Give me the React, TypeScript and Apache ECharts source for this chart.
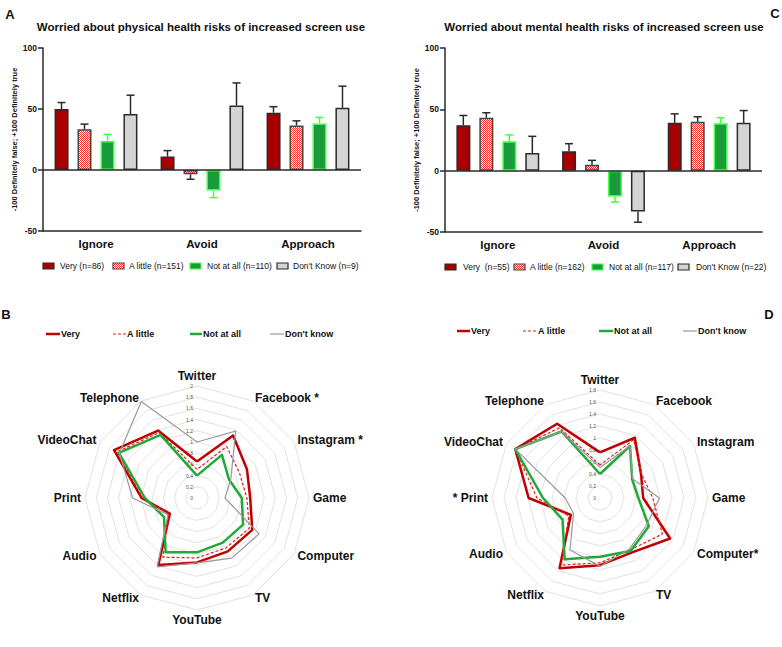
import React, { useEffect, useRef } from 'react';
import * as echarts from 'echarts';

// ---------- Bar charts (A: physical, C: mental) ----------
const barCategories = ['Ignore', 'Avoid', 'Approach'];
const groupNames = ['Very', 'A little', 'Not at all', "Don't Know"];
const physLegend = ['Very (n=86)', 'A little (n=151)', 'Not at all (n=110)', "Don't Know (n=9)"];
const mentLegend = ['Very  (n=55)', 'A little (n=162)', 'Not at all (n=117)', "Don't Know (n=22)"];
const yTickMin = -50;
const yTickMax = 100;
const yTickStep = 50;

const physVery = [50, 11, 47];
const physVeryErr = [5.3, 4.9, 4.9];
const physLittle = [33.3, -3.5, 36.5];
const physLittleErr = [4.3, 4.1, 3.8];
const physNot = [23.7, -16.9, 38.2];
const physNotErr = [5.5, 5.7, 4.9];
const physDK = [45.8, 52.9, 51];
const physDKErr = [15.5, 18.5, 17.7];

const mentVery = [37, 15.8, 39];
const mentVeryErr = [8, 6.2, 7.3];
const mentLittle = [43.1, 4.9, 39.8];
const mentLittleErr = [4.1, 3.5, 4.1];
const mentNot = [24, -21, 38.7];
const mentNotErr = [5.2, 4.6, 4.4];
const mentDK = [14.5, -33.3, 39];
const mentDKErr = [13.5, 8.7, 10];

// ---------- Radar charts (B: physical, D: mental) ----------
// clockwise from top
const radarNamesB = ['Twitter', 'Facebook *', 'Instagram *', 'Game', 'Computer', 'TV', 'YouTube', 'Netflix', 'Audio', 'Print', 'VideoChat', 'Telephone'];
const radarNamesD = ['Twitter', 'Facebook', 'Instagram', 'Game', 'Computer*', 'TV', 'YouTube', 'Netflix', 'Audio', '* Print', 'VideoChat', 'Telephone'];
const radarLegend = ['Very', 'A little', 'Not at all', "Don't know"];
const radarMaxB = 2;
const radarMaxD = 1.8;

const radarVeryB = [0.65, 1.29, 1.03, 0.95, 1.14, 1.10, 1.15, 1.38, 0.56, 0.99, 1.71, 1.39];
const radarLittleB = [0.51, 1.06, 0.88, 0.89, 1.08, 1.03, 1.07, 1.22, 0.58, 0.97, 1.65, 1.35];
const radarNotB = [0.40, 0.89, 0.66, 0.80, 0.95, 0.92, 0.97, 1.12, 0.68, 0.93, 1.61, 1.30];
const radarDKB = [1.0, 1.38, 0.70, 0.50, 1.28, 1.24, 1.16, 1.42, 0.60, 1.15, 1.60, 1.99];

const radarVeryD = [0.76, 1.16, 0.79, 0.72, 1.35, 1.05, 1.12, 1.35, 0.56, 1.19, 1.63, 1.43];
const radarLittleD = [0.55, 1.12, 0.80, 0.88, 1.20, 1.00, 1.08, 1.29, 0.60, 1.05, 1.63, 1.35];
const radarNotD = [0.40, 1.00, 0.62, 0.64, 0.94, 1.02, 0.98, 1.18, 0.72, 0.95, 1.63, 1.28];
const radarDKD = [0.51, 1.00, 0.63, 0.99, 0.90, 0.98, 1.14, 1.00, 0.51, 0.58, 1.63, 1.28];

const FONT = '"Liberation Sans", Arial, Helvetica, sans-serif';

function makeChecker(): HTMLCanvasElement {
  const c = document.createElement('canvas');
  c.width = 2;
  c.height = 2;
  const ctx = c.getContext('2d')!;
  ctx.fillStyle = '#ffffff';
  ctx.fillRect(0, 0, 2, 2);
  ctx.fillStyle = '#f03030';
  ctx.fillRect(0, 0, 1, 1);
  ctx.fillRect(1, 1, 1, 1);
  return c;
}

export default function App() {
  const ref = useRef<HTMLDivElement>(null);

  useEffect(() => {
    if (!ref.current) return;
    const chart = echarts.init(ref.current, undefined, { renderer: 'svg' });
    const checker = makeChecker();
    const pattern: any = { image: checker, repeat: 'repeat' };

    const fills: any[] = ['#a80000', pattern, '#1a9b3b', '#d4d4d4'];
    const borders = ['#2a2a2a', '#444444', '#45ff45', '#2a2a2a'];
    const errColors = ['#2a2a2a', '#2a2a2a', '#45ff45', '#2a2a2a'];
    const step = 23;

    const physVals = [physVery, physLittle, physNot, physDK];
    const physErrs = [physVeryErr, physLittleErr, physNotErr, physDKErr];
    const mentVals = [mentVery, mentLittle, mentNot, mentDK];
    const mentErrs = [mentVeryErr, mentLittleErr, mentNotErr, mentDKErr];

    const series: any[] = [];
    const addBars = (gi: number, vals: number[][], errs: number[][]) => {
      vals.forEach((v, k) => {
        series.push({
          type: 'bar',
          name: groupNames[k],
          xAxisIndex: gi,
          yAxisIndex: gi,
          barWidth: 14,
          barGap: '64%',
          data: v,
          itemStyle: { color: fills[k], borderColor: borders[k], borderWidth: 1.5 },
          z: 2,
          markLine: k === 0 ? {
            silent: true,
            symbol: 'none',
            label: { show: false },
            lineStyle: { color: '#2a2a2a', width: 1.5, type: 'solid' },
            data: [{ yAxis: 0 }],
            z: 5,
          } : undefined,
        });
      });
      vals.forEach((v, k) => {
        const offset = (k - 1.5) * step;
        series.push({
          type: 'custom',
          name: groupNames[k] + ' err',
          xAxisIndex: gi,
          yAxisIndex: gi,
          z: 3,
          data: v.map((val, c) => [c, val, errs[k][c]]),
          renderItem: (params: any, api: any) => {
            const c = api.value(0);
            const val = api.value(1);
            const e = api.value(2);
            const end = val >= 0 ? val + e : val - e;
            const p0 = api.coord([c, val]);
            const p1 = api.coord([c, end]);
            const x = p0[0] + offset;
            const st = { stroke: errColors[k], lineWidth: 1.5 };
            return {
              type: 'group',
              children: [
                { type: 'line', shape: { x1: x, y1: p0[1], x2: x, y2: p1[1] }, style: st },
                { type: 'line', shape: { x1: x - 4, y1: p1[1], x2: x + 4, y2: p1[1] }, style: st },
              ],
            };
          },
        });
      });
    };
    addBars(0, physVals, physErrs);
    addBars(1, mentVals, mentErrs);

    // radar: ECharts lays indicators counter-clockwise, so reorder
    const order = [0, 11, 10, 9, 8, 7, 6, 5, 4, 3, 2, 1];
    const reorder = (a: any[]) => order.map((i) => a[i]);
    const radarStyles = [
      { color: '#c00000', width: 2.5, type: 'solid' },
      { color: '#e02020', width: 1.2, type: [3, 2] },
      { color: '#20a838', width: 2.5, type: 'solid' },
      { color: '#9a9a9a', width: 1.2, type: 'solid' },
    ];
    const makeRadarSeries = (ri: number, sets: number[][]) => ({
      type: 'radar',
      radarIndex: ri,
      symbol: 'none',
      data: sets.map((s, k) => ({
        name: radarLegend[k],
        value: reorder(s),
        lineStyle: radarStyles[k],
        itemStyle: { color: radarStyles[k].color },
      })),
    });
    series.push(makeRadarSeries(0, [radarVeryB, radarLittleB, radarNotB, radarDKB]));
    series.push(makeRadarSeries(1, [radarVeryD, radarLittleD, radarNotD, radarDKD]));

    const makeRadar = (center: number[], radius: number, names: string[], max: number) => ({
      center,
      radius,
      startAngle: 90,
      shape: 'polygon',
      splitNumber: Math.round(max / 0.2),
      nameGap: 4,
      axisName: { color: '#111', fontWeight: 'bold', fontSize: 12, fontFamily: FONT },
      splitLine: { lineStyle: { color: '#e2e2e2', width: 1 } },
      splitArea: { show: false },
      axisLine: { show: false },
      axisTick: { show: false },
      axisLabel: { show: false },
      indicator: reorder(names).map((n: string, i: number) => ({
        name: n,
        min: 0,
        max,
        ...(i === 0
          ? {
              axisLabel: {
                show: true,
                fontSize: 5,
                color: '#555',
                margin: 4,
                fontFamily: FONT,
                formatter: (v: number) => String(Math.round(v * 10) / 10),
              },
            }
          : {}),
      })),
    });

    const xAxisCommon = (gi: number) => ({
      type: 'category',
      gridIndex: gi,
      data: barCategories,
      axisLine: { onZero: false, lineStyle: { color: '#2a2a2a', width: 1.5 } },
      axisTick: { alignWithLabel: true, length: 5, lineStyle: { color: '#2a2a2a', width: 1.5 } },
      axisLabel: { color: '#111', fontWeight: 'bold', fontSize: 11.5, fontFamily: FONT, margin: 7 },
    });
    const yAxisCommon = (gi: number) => ({
      type: 'value',
      gridIndex: gi,
      min: yTickMin,
      max: yTickMax,
      interval: yTickStep,
      axisLine: { show: true, lineStyle: { color: '#2a2a2a', width: 1.5 } },
      axisTick: { show: true, length: 5, lineStyle: { color: '#2a2a2a', width: 1.5 } },
      axisLabel: { color: '#111', fontWeight: 'bold', fontSize: 8.5, fontFamily: FONT, margin: 6 },
      splitLine: { show: false },
      name: '-100 Definitely false; +100 Definitely true',
      nameLocation: 'middle',
      nameGap: 25,
      nameRotate: 90,
      nameTextStyle: { color: '#111', fontWeight: 'bold', fontSize: 7.5, fontFamily: FONT },
    });

    const graphics: any[] = [];
    const txt = (x: number, y: number, text: string, size: number, weight: string, align = 'left', color = '#111') =>
      graphics.push({
        type: 'text',
        x,
        y,
        style: { text, fontSize: size, fontWeight: weight, fontFamily: FONT, fill: color, align, verticalAlign: 'middle' },
      });

    // panel letters and titles
    txt(10, 14, 'A', 13, 'bold', 'center');
    txt(775, 13, 'C', 13, 'bold', 'center');
    txt(6, 314, 'B', 13, 'bold', 'center');
    txt(769, 314, 'D', 13, 'bold', 'center');
    txt(201, 27, 'Worried about physical health risks of increased screen use', 11.5, 'bold', 'center');
    txt(604, 27, 'Worried about mental health risks of increased screen use', 11.5, 'bold', 'center');

    // bar legends
    const barLegend = (y: number, sw: number[], tx: number[], labels: string[]) => {
      labels.forEach((l, k) => {
        graphics.push({
          type: 'rect',
          shape: { x: sw[k], y: y - 3, width: 11, height: 6 },
          style: { fill: fills[k], stroke: borders[k], lineWidth: 1.2 },
        });
        txt(tx[k], y, l, 8.5, 'normal');
      });
    };
    barLegend(266, [43, 113, 190, 277], [60, 129, 207, 293], physLegend);
    barLegend(267, [445, 514, 592, 678], [463, 530, 609, 696], mentLegend);

    // radar legends
    const radarLeg = (y: number, ls: number[], tx: number[]) => {
      radarLegend.forEach((l, k) => {
        const s = radarStyles[k];
        graphics.push({
          type: 'line',
          shape: { x1: ls[k], y1: y, x2: tx[k], y2: y },
          style: { stroke: s.color, lineWidth: s.width, lineDash: k === 1 ? [3, 2] : null },
        });
        txt(tx[k] + 1, y, l, 9, 'bold');
      });
    };
    radarLeg(334, [46, 113, 190, 270], [60, 126, 202, 284]);
    radarLeg(331, [457, 523, 599, 683], [470, 537, 613, 697]);

    chart.setOption({
      animation: false,
      backgroundColor: '#ffffff',
      textStyle: { fontFamily: FONT },
      grid: [
        { left: 43, top: 48, width: 318, height: 183, containLabel: false },
        { left: 445, top: 48, width: 317, height: 184, containLabel: false },
      ],
      xAxis: [xAxisCommon(0), xAxisCommon(1)],
      yAxis: [yAxisCommon(0), yAxisCommon(1)],
      radar: [
        makeRadar([197, 498], 112, radarNamesB, radarMaxB),
        makeRadar([600, 498], 108, radarNamesD, radarMaxD),
      ],
      series,
      graphic: graphics,
    });

    return () => chart.dispose();
  }, []);

  return (
    <div
      ref={ref}
      style={{ position: 'absolute', left: 0, top: 0, width: 782, height: 647, background: '#fff' }}
    />
  );
}
